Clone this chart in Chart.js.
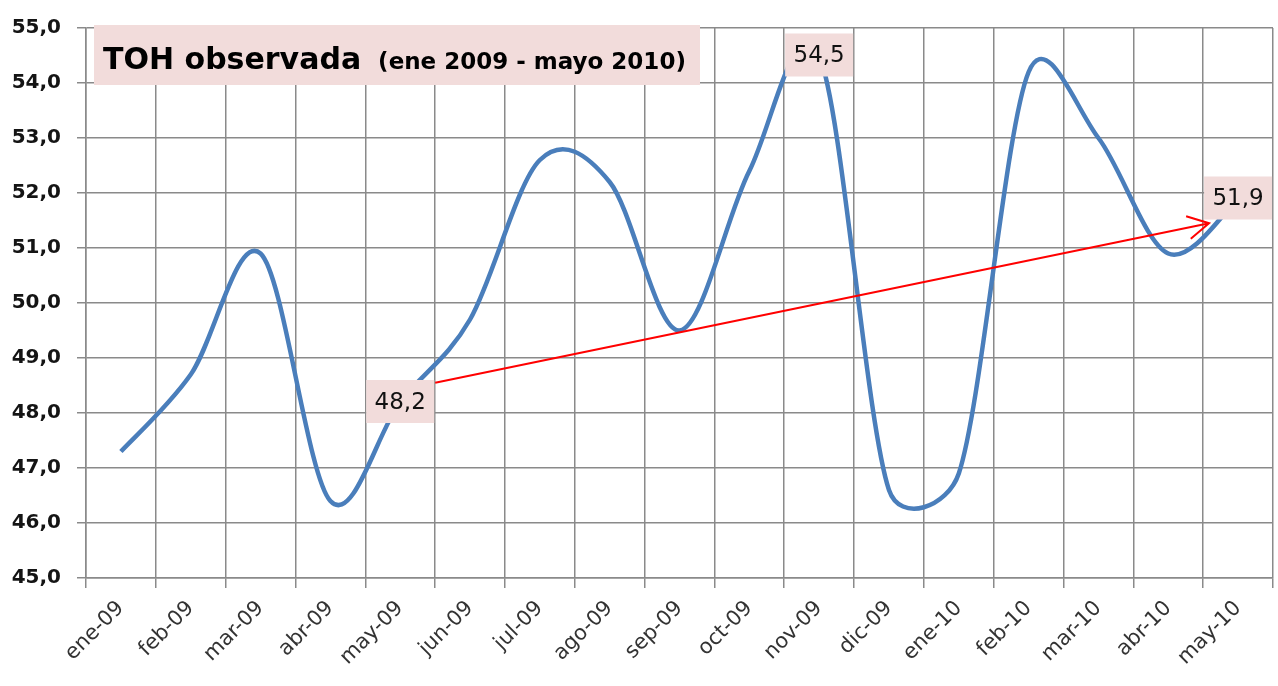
<!DOCTYPE html>
<html>
<head>
<meta charset="utf-8">
<script src="https://cdn.jsdelivr.net/npm/chart.js@4/dist/chart.umd.min.js"></script>
<style>
    body { margin: 0; background: #ffffff; }
    #contenedor { width: 1278px; height: 686px; position: relative; }
</style>
</head>
<body>
<div id="contenedor"><canvas id="graficoTOH"></canvas></div>
<script>
// Datos
var meses = ['ene-09', 'feb-09', 'mar-09', 'abr-09', 'may-09', 'jun-09', 'jul-09', 'ago-09', 'sep-09',
    'oct-09', 'nov-09', 'dic-09', 'ene-10', 'feb-10', 'mar-10', 'abr-10', 'may-10'];
var tohObservada = [47.3, 48.7, 50.9, 46.4, 48.2, 49.7, 52.6, 52.2, 49.5,
    52.4, 54.5, 46.6, 46.9, 54.2, 53.0, 50.9, 51.9];
var mesesEtiquetados = ['may-09', 'nov-09', 'may-10'];
var escalaY = { min: 45, max: 55, paso: 1 };
var titulo = 'TOH observada';
var subtitulo = '(ene 2009 - mayo 2010)';

function formatoComa(v) {
    return v.toFixed(1).replace('.', ',');
}

// Suavizado tipo Excel: tangente (P[i+1]-P[i-1])/6, limitada a medio segmento
var suavizadoExcel = {
    id: 'suavizadoExcel',
    beforeDatasetsDraw: function (chart) {
        var meta = chart.getDatasetMeta(0);
        var pts = meta.data;
        var n = pts.length;
        for (var i = 0; i < n; i++) {
            var p = pts[i];
            var a = pts[Math.max(i - 1, 0)];
            var b = pts[Math.min(i + 1, n - 1)];
            var tx = b.x - a.x;
            var ty = b.y - a.y;
            var lt = Math.sqrt(tx * tx + ty * ty) || 1;
            var dPrev = Math.sqrt(Math.pow(p.x - a.x, 2) + Math.pow(p.y - a.y, 2));
            var dNext = Math.sqrt(Math.pow(b.x - p.x, 2) + Math.pow(b.y - p.y, 2));
            var f1 = Math.min(1 / 6, 0.5 * dPrev / lt);
            var f2 = Math.min(1 / 6, 0.5 * dNext / lt);
            p.cp1x = p.x - tx * f1;
            p.cp1y = p.y - ty * f1;
            p.cp2x = p.x + tx * f2;
            p.cp2y = p.y + ty * f2;
        }
        meta.dataset._pointsUpdated = true;
        meta.dataset._path = undefined;
    }
};

// Plugin para la caja del titulo, las etiquetas de datos y la flecha roja
var anotaciones = {
    id: 'anotaciones',
    afterDatasetsDraw: function (chart) {
        var ctx = chart.ctx;
        var x = chart.scales.x;
        var y = chart.scales.y;
        var area = chart.chartArea;
        ctx.save();

        // Titulo
        ctx.fillStyle = '#f2dcdb';
        ctx.fillRect(area.left + 8, area.top - 3, 606, 60);
        ctx.fillStyle = '#000000';
        ctx.textBaseline = 'alphabetic';
        ctx.textAlign = 'left';
        ctx.font = 'bold 30px "DejaVu Sans"';
        ctx.fillText(titulo, area.left + 17, area.top + 41);
        var anchoTitulo = ctx.measureText(titulo).width;
        ctx.font = 'bold 23px "DejaVu Sans"';
        ctx.fillText(subtitulo, area.left + 17 + anchoTitulo + 17, area.top + 41);

        // Flecha de tendencia
        var iDesde = meses.indexOf('may-09');
        var iHasta = meses.indexOf('may-10');
        var x0 = x.getPixelForValue(iDesde) + 35;
        var y0 = y.getPixelForValue(48.55);
        var x1 = x.getPixelForValue(iHasta) - 29;
        var y1 = y.getPixelForValue(51.45);
        var ang = Math.atan2(y1 - y0, x1 - x0);
        ctx.strokeStyle = '#ff0000';
        ctx.lineWidth = 2;
        ctx.beginPath();
        ctx.moveTo(x0, y0);
        ctx.lineTo(x1, y1);
        ctx.moveTo(x1 - 24 * Math.cos(ang - 0.5), y1 - 24 * Math.sin(ang - 0.5));
        ctx.lineTo(x1, y1);
        ctx.lineTo(x1 - 24 * Math.cos(ang + 0.5), y1 - 24 * Math.sin(ang + 0.5));
        ctx.stroke();

        // Etiquetas de datos
        ctx.font = '23px "DejaVu Sans"';
        ctx.textAlign = 'center';
        ctx.textBaseline = 'middle';
        mesesEtiquetados.forEach(function (m) {
            var i = meses.indexOf(m);
            var px = x.getPixelForValue(i);
            var py = y.getPixelForValue(tohObservada[i]);
            ctx.fillStyle = '#f2dcdb';
            ctx.fillRect(px - 34, py - 22, 68, 43);
            ctx.fillStyle = '#111111';
            ctx.fillText(formatoComa(tohObservada[i]), px, py + 1);
        });
        ctx.restore();
    }
};

var ctx = document.getElementById('graficoTOH').getContext('2d');
var grafico = new Chart(ctx, {
    type: 'line',
    data: {
        labels: meses,
        datasets: [{
            label: 'TOH observada',
            data: tohObservada,
            borderColor: '#4a7ebb',
            borderWidth: 4.5,
            pointRadius: 0,
            tension: 0.4,
            fill: false
        }]
    },
    plugins: [suavizadoExcel, anotaciones],
    options: {
        responsive: true,
        maintainAspectRatio: false,
        animation: false,
        layout: { padding: { top: 21, right: 5, left: 0, bottom: 0 } },
        plugins: {
            legend: { display: false },
            tooltip: { enabled: false }
        },
        scales: {
            x: {
                offset: true,
                grid: {
                    offset: true,
                    color: '#8a8a8a',
                    lineWidth: 1.5,
                    tickLength: 10
                },
                border: { color: '#8a8a8a', width: 1.5 },
                ticks: {
                    autoSkip: false,
                    maxRotation: 45,
                    minRotation: 45,
                    padding: 8,
                    color: '#333333',
                    font: { family: 'DejaVu Sans', size: 21 }
                },
                afterFit: function (scale) { scale.height = 108; }
            },
            y: {
                min: escalaY.min,
                max: escalaY.max,
                grid: {
                    color: '#8a8a8a',
                    lineWidth: 1.5,
                    tickLength: 9
                },
                border: { color: '#8a8a8a', width: 1.5 },
                ticks: {
                    stepSize: escalaY.paso,
                    padding: 16,
                    color: '#141414',
                    font: { family: 'DejaVu Sans', size: 20, weight: 'bold' },
                    callback: function (v) { return formatoComa(v); }
                },
                afterFit: function (scale) { scale.width = 86; }
            }
        }
    }
});
</script>
</body>
</html>
